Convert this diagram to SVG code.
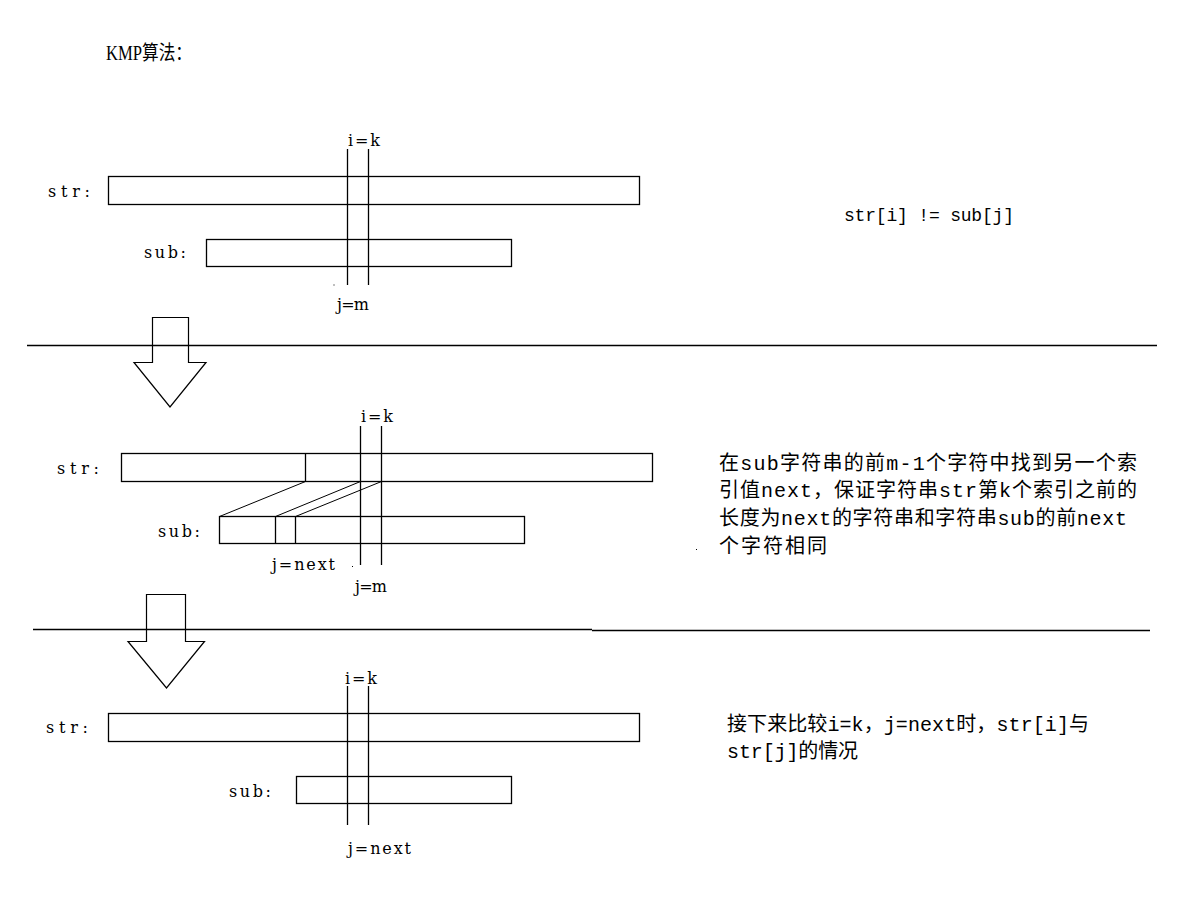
<svg xmlns="http://www.w3.org/2000/svg" width="1195" height="916" viewBox="0 0 1195 916">
<style>
.bg{fill:#ffffff}
.box{fill:none;stroke:#000;stroke-width:1.3}
.ln{fill:none;stroke:#000;stroke-width:1.3}
.thin{fill:none;stroke:#000;stroke-width:1}
.arrow{fill:none;stroke:#000;stroke-width:1.2;stroke-linejoin:miter}
.lbl{font-family:"DejaVu Serif","Noto Sans CJK SC",serif;font-size:16px;fill:#000}
.mono{font-family:"Liberation Mono","Noto Sans CJK SC",monospace;font-size:20px;fill:#000}
.mono18{font-family:"Liberation Mono","Noto Sans CJK SC",monospace;font-size:18px;fill:#000}
.title{font-family:"Liberation Serif","Noto Sans CJK SC",serif;font-size:20px;fill:#000}
.dot{fill:#000}
</style>
<rect class="bg" x="0" y="0" width="1195" height="916"/>

<g id="title">
<text class="title" x="106" y="60" textLength="86" lengthAdjust="spacingAndGlyphs">KMP算法：</text>
</g>

<!-- Section 1 -->
<g id="step1">
<g id="s1-str">
<text class="lbl" x="48" y="197" textLength="42" lengthAdjust="spacing">str:</text>
<rect class="box" x="108.5" y="176.5" width="531" height="28"/>
</g>
<g id="s1-sub">
<text class="lbl" x="144" y="258" textLength="42" lengthAdjust="spacing">sub:</text>
<rect class="box" x="206.5" y="239.5" width="305" height="27"/>
</g>
<g id="s1-markers">
<line class="ln" x1="347.5" y1="149" x2="347.5" y2="285"/>
<line class="ln" x1="368.5" y1="149" x2="368.5" y2="285"/>
<text class="lbl" x="348" y="146" textLength="32" lengthAdjust="spacing">i=k</text>
<text class="lbl" x="337" y="310" textLength="32" lengthAdjust="spacing">j=m</text>
<rect class="dot" x="333.5" y="284.5" width="1" height="1"/>
</g>
<g id="s1-note">
<text class="mono18" x="844" y="221" textLength="170" lengthAdjust="spacing">str[i] != sub[j]</text>
</g>
</g>

<g id="connectors">
<line class="ln" x1="27" y1="345.5" x2="1157" y2="345.5"/>
<polygon class="arrow" points="152.5,317.5 188.5,317.5 188.5,362.5 206,362.5 170,407 134,362.5 152.5,362.5"/>
<line class="ln" x1="33" y1="629.5" x2="592" y2="629.5"/>
<line class="ln" x1="592" y1="630.5" x2="1150" y2="630.5"/>
<polygon class="arrow" points="146.5,594.5 185.5,594.5 185.5,641.5 204.5,641.5 166.5,688 128,641.5 146.5,641.5"/>
<line class="thin" x1="305.5" y1="481.5" x2="219.5" y2="516.5"/>
<line class="thin" x1="360.5" y1="481.5" x2="275.5" y2="516.5"/>
<line class="thin" x1="381.5" y1="481.5" x2="295.5" y2="516.5"/>
</g>

<!-- Section 2 -->
<g id="step2">
<g id="s2-str">
<text class="lbl" x="57" y="474" textLength="42" lengthAdjust="spacing">str:</text>
<rect class="box" x="121.5" y="453.5" width="531" height="28"/>
<line class="ln" x1="305.5" y1="453.5" x2="305.5" y2="481.5"/>
</g>
<g id="s2-sub">
<text class="lbl" x="158" y="537" textLength="42" lengthAdjust="spacing">sub:</text>
<rect class="box" x="219.5" y="516.5" width="305" height="27"/>
<line class="ln" x1="275.5" y1="516.5" x2="275.5" y2="544"/>
<line class="ln" x1="295.5" y1="516.5" x2="295.5" y2="543.5"/>
</g>
<g id="s2-markers">
<line class="ln" x1="360.5" y1="426" x2="360.5" y2="565"/>
<line class="ln" x1="381.5" y1="426" x2="381.5" y2="565"/>
<text class="lbl" x="361" y="422" textLength="32" lengthAdjust="spacing">i=k</text>
<text class="lbl" x="272" y="570" textLength="63" lengthAdjust="spacing">j=next</text>
<text class="lbl" x="355" y="592" textLength="32" lengthAdjust="spacing">j=m</text>
<rect class="dot" x="352" y="566" width="1" height="1"/>
</g>
<g id="s2-note">
<text class="mono" x="719" y="469.5" textLength="418" lengthAdjust="spacing">在sub字符串的前m-1个字符中找到另一个索</text>
<text class="mono" x="719" y="497" textLength="418" lengthAdjust="spacing">引值next，保证字符串str第k个索引之前的</text>
<text class="mono" x="719" y="525" textLength="408" lengthAdjust="spacing">长度为next的字符串和字符串sub的前next</text>
<text class="mono" x="719" y="553" textLength="108" lengthAdjust="spacing">个字符相同</text>
<rect class="dot" x="696" y="549" width="1" height="1"/>
</g>
</g>

<!-- Section 3 -->
<g id="step3">
<g id="s3-str">
<text class="lbl" x="46" y="733" textLength="42" lengthAdjust="spacing">str:</text>
<rect class="box" x="108.5" y="713.5" width="531" height="28"/>
</g>
<g id="s3-sub">
<text class="lbl" x="229" y="797" textLength="42" lengthAdjust="spacing">sub:</text>
<rect class="box" x="296.5" y="776.5" width="215" height="27"/>
</g>
<g id="s3-markers">
<line class="ln" x1="347.5" y1="686" x2="347.5" y2="825"/>
<line class="ln" x1="368.5" y1="686" x2="368.5" y2="825"/>
<text class="lbl" x="345" y="684" textLength="32" lengthAdjust="spacing">i=k</text>
<text class="lbl" x="348" y="854" textLength="63" lengthAdjust="spacing">j=next</text>
</g>
<g id="s3-note">
<text class="mono" x="727" y="730.5" textLength="362" lengthAdjust="spacing">接下来比较i=k，j=next时，str[i]与</text>
<text class="mono" x="727" y="758" textLength="131" lengthAdjust="spacing">str[j]的情况</text>
</g>
</g>
</svg>
